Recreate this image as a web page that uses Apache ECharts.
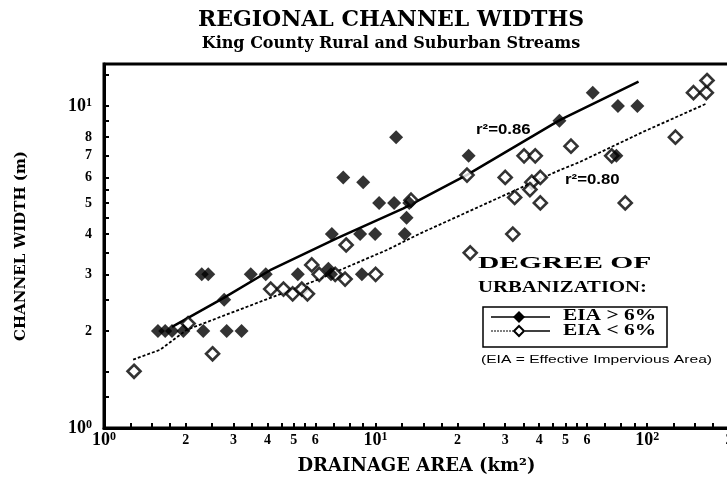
<!DOCTYPE html>
<html>
<head>
<meta charset="utf-8">
<script src="https://cdn.jsdelivr.net/npm/echarts@6/dist/echarts.min.js"></script>
<style>
html,body{margin:0;padding:0;background:#fff;}
#chart{width:727px;height:484px;}
</style>
</head>
<body>
<div id="chart"></div>
<script>
// ---- data (drainage area km², channel width m) ----
const highX = [1.58,1.68,1.78,1.96,2.32,2.83,3.21,2.77,2.29,2.42,3.47,3.94,5.17,6.7,6.85,8.9,6.9,8.77,9.96,12.8,13.0,10.3,11.7,13.3,9.0,7.6,11.9,22,47.5,63,78,92,77];
const highY = [2.0,2.0,2.0,2.0,2.0,2.0,2.0,2.5,3.0,3.0,3.0,3.0,3.0,3.12,3.0,3.0,4.0,4.0,4.0,4.0,4.5,5.0,5.0,5.0,5.8,6.0,8.0,7.0,9.0,11.0,10.0,10.0,7.0];
const lowX = [1.29,2.51,2.04,4.11,4.58,4.95,5.35,5.61,5.82,6.2,7.1,7.72,10.0,7.79,13.5,21.7,22.3,30,32,32.5,35.2,38.7,37.6,37,40.4,40.4,52.4,74,83,127,148,165,166];
const lowY = [1.5,1.7,2.11,2.7,2.7,2.61,2.7,2.61,3.21,3.0,3.0,2.9,3.0,3.7,5.1,6.1,3.5,6.0,4.0,5.2,7.0,7.0,5.8,5.5,6.0,5.0,7.5,7.0,5.0,8.0,11.0,11.0,12.0];
// trend lines
const fitHighX = [1.78,2.75,4.09,7.19,12.66,21.7,47.8,92.9];
const fitHighY = [2.06,2.53,3.09,3.88,4.81,6.11,9.05,11.9];
const fitLowX = [1.28,1.61,2.02,3.97,5.89,11.0,14.6,47.8,56.7,96.9,166];
const fitLowY = [1.63,1.75,2.02,2.51,2.85,3.57,4.02,6.33,6.71,8.32,10.19];
// axis labels and ticks
const xLabelValues = [1,2,3,4,5,6,10,20,30,40,50,60,100,200];
const xTickValues = [1,1.25,1.5,1.75,2,2.5,3,3.5,4,4.5,5,5.5,6,7,8,9,10,12.5,15,17.5,20,25,30,35,40,45,50,55,60,70,80,90,100,125,150,175,200];
const yLabelValues = [1,2,3,4,5,6,7,8,10];
const yTickValues = [1,1.25,1.5,2,2.5,3,3.5,4,4.5,5,5.5,6,7,8,9,10,12.5];
const r2High = 'r²=0.86';
const r2Low = 'r²=0.80';

const pairs = (xs, ys) => xs.map((x, i) => [x, ys[i]]);
const serif = "'Liberation Serif','Times New Roman',serif";
const wideSerif = "'DejaVu Serif','Liberation Serif',serif";
const sans = "'Liberation Sans',Arial,sans-serif";
function fmt(v){
  const e = Math.floor(Math.log10(v) + 1e-9);
  const m = Math.round(v / Math.pow(10, e));
  if (m === 1) return '{b|10}{s|' + e + '}';
  return '{d|' + m + '}';
}
const labelRich = {
  b:{fontFamily:serif,fontWeight:'bold',fontSize:18,lineHeight:18,color:'#000',verticalAlign:'bottom'},
  s:{fontFamily:serif,fontWeight:'bold',fontSize:12,lineHeight:12,color:'#000',verticalAlign:'top'},
  d:{fontFamily:serif,fontWeight:'bold',fontSize:14,lineHeight:18,color:'#000'}
};
function txt(x, y, s, font, sx){
  return {type:'text', x:x, y:y, scaleX:sx||1, style:{text:s, font:font, fill:'#000', textVerticalAlign:'middle'}};
}

const chart = echarts.init(document.getElementById('chart'));
chart.setOption({
  animation:false,
  backgroundColor:'#fff',
  title:{
    text:'REGIONAL CHANNEL WIDTHS',
    subtext:'King County Rural and Suburban Streams',
    left:386, textAlign:'center', top:4, itemGap:5,
    textStyle:{fontFamily:wideSerif,fontWeight:'bold',fontSize:22,color:'#000'},
    subtextStyle:{fontFamily:wideSerif,fontWeight:'bold',fontSize:16,color:'#000'}
  },
  grid:{left:104,top:64,right:-2,bottom:56,show:true,borderColor:'#000',borderWidth:3,outerBoundsMode:'none',containLabel:false},
  xAxis:{
    type:'log', min:1, max:200,
    name:'DRAINAGE AREA (km²)', nameLocation:'middle', nameGap:29,
    nameTextStyle:{fontFamily:wideSerif,fontWeight:'bold',fontSize:18,color:'#000'},
    axisLine:{show:true,lineStyle:{color:'#000',width:3}},
    axisTick:{show:true,inside:true,length:5,lineStyle:{color:'#000',width:2},customValues:xTickValues},
    minorTick:{show:false},
    splitLine:{show:false},
    axisLabel:{customValues:xLabelValues,formatter:fmt,rich:labelRich,fontFamily:serif,fontWeight:'bold',fontSize:14,color:'#000',margin:3,showMinLabel:true,showMaxLabel:true,hideOverlap:false}
  },
  yAxis:{
    type:'log', min:1, max:13.5,
    name:'CHANNEL WIDTH (m)', nameLocation:'middle', nameGap:75, nameRotate:90,
    nameTextStyle:{fontFamily:wideSerif,fontWeight:'bold',fontSize:15,color:'#000'},
    axisLine:{show:true,lineStyle:{color:'#000',width:3}},
    axisTick:{show:true,inside:true,length:5,lineStyle:{color:'#000',width:2},customValues:yTickValues},
    splitLine:{show:false},
    axisLabel:{customValues:yLabelValues,formatter:fmt,rich:labelRich,fontFamily:serif,fontWeight:'bold',fontSize:14,color:'#000',margin:12,hideOverlap:false}
  },
  series:[
    {name:'EIA > 6% fit',type:'line',data:pairs(fitHighX,fitHighY),showSymbol:false,symbol:'none',lineStyle:{color:'#000',width:2.5},z:1,silent:true},
    {name:'EIA < 6% fit',type:'line',data:pairs(fitLowX,fitLowY),showSymbol:false,symbol:'none',lineStyle:{color:'#000',width:1.8,type:[3,2]},z:1,silent:true},
    {name:'EIA > 6%',type:'scatter',data:pairs(highX,highY),symbol:'diamond',symbolSize:14,itemStyle:{color:'#000'},z:3},
    {name:'EIA < 6%',type:'scatter',data:pairs(lowX,lowY),symbol:'diamond',symbolSize:13,itemStyle:{color:'#fff',borderColor:'#000',borderWidth:2.6},z:2}
  ],
  graphic:[
    txt(476,130,r2High,"bold 14px "+sans,1.2),
    txt(565,180,r2Low,"bold 14px "+sans,1.2),
    txt(478,264,'DEGREE OF',"bold 17px "+serif,1.74),
    txt(478,288,'URBANIZATION:',"bold 17px "+serif,1.22),
    {type:'rect',shape:{x:483,y:307,width:184,height:40},style:{fill:'none',stroke:'#000',lineWidth:1.5}},
    {type:'line',shape:{x1:491,y1:317,x2:550,y2:317},style:{stroke:'#000',lineWidth:1.5}},
    {type:'polygon',shape:{points:[[519,311],[525,317],[519,323],[513,317]]},style:{fill:'#000'}},
    {type:'line',shape:{x1:491,y1:331,x2:513,y2:331},style:{stroke:'#000',lineWidth:1,lineDash:[2,1]}},
    {type:'line',shape:{x1:525,y1:331,x2:550,y2:331},style:{stroke:'#000',lineWidth:1.5}},
    {type:'polygon',shape:{points:[[519,326],[524,331],[519,336],[514,331]]},style:{fill:'#fff',stroke:'#000',lineWidth:2}},
    txt(563,316,'EIA > 6%',"bold 17px "+serif,1.26),
    txt(563,331,'EIA < 6%',"bold 17px "+serif,1.26),
    txt(481,360,'(EIA = Effective Impervious Area)',"11px "+sans,1.42)
  ]
});
</script>
</body>
</html>
